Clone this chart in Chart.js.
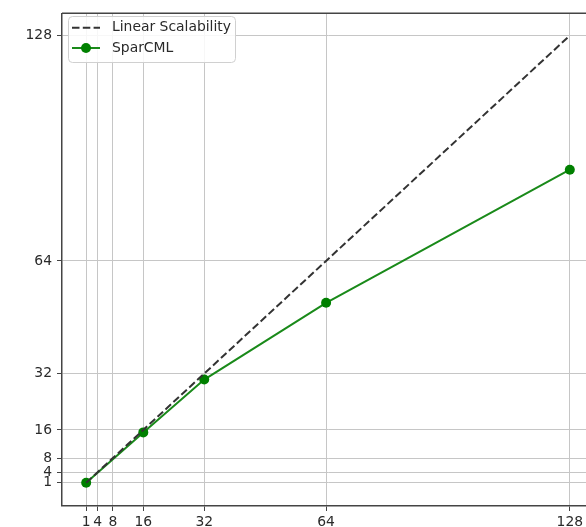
<!DOCTYPE html>
<html>
<head>
<meta charset="utf-8">
<script src="https://cdn.jsdelivr.net/npm/chart.js@4.4.1/dist/chart.umd.min.js"></script>
<style>
    html, body { margin: 0; padding: 0; background: #fff; overflow: hidden; }
    #wrap { width: 600px; height: 527px; }
</style>
</head>
<body>
<div id="wrap"><canvas id="speedupChart" width="600" height="527"></canvas></div>
<script>
// Data
const nodes = [1, 16, 32, 64, 128];
const sparcmlSpeedup = [1, 15.3, 30.3, 52.1, 89.9];
const linearNodes = [1, 4, 8, 16, 32, 64, 128];
const linearSpeedup = [1, 4, 8, 16, 32, 64, 128];
const tickValues = [1, 4, 8, 16, 32, 64, 128];
const seriesLabels = ['Linear Scalability', 'SparCML'];

const font = { family: 'DejaVu Sans', size: 13.9 };
const textColor = '#2a2a2a';
const gridColor = '#c6c6c6';
const spineColor = '#444';

const setTicks = scale => {
    scale.ticks = tickValues.map(v => ({ value: v }));
};

// Top spine + matplotlib-like legend box inside the axes
const extrasPlugin = {
    id: 'extras',
    afterDraw(chart) {
        const ctx = chart.ctx;
        const area = chart.chartArea;
        ctx.save();
        ctx.strokeStyle = spineColor;
        ctx.lineWidth = 1.5;
        ctx.beginPath();
        ctx.moveTo(area.left, area.top);
        ctx.lineTo(area.right, area.top);
        ctx.stroke();

        // legend box
        const bx = 68, by = 16, bw = 167, bh = 46, r = 4;
        ctx.fillStyle = 'rgba(255,255,255,0.85)';
        ctx.strokeStyle = '#d0d0d0';
        ctx.lineWidth = 1;
        ctx.beginPath();
        ctx.roundRect(bx + 0.5, by + 0.5, bw, bh, r);
        ctx.fill();
        ctx.stroke();

        const rows = [27.7, 48];
        chart.data.datasets.forEach((ds, i) => {
            const y = rows[i];
            ctx.strokeStyle = ds.borderColor;
            ctx.lineWidth = ds.borderWidth;
            ctx.setLineDash(ds.borderDash || []);
            ctx.beginPath();
            ctx.moveTo(72, y);
            ctx.lineTo(100, y);
            ctx.stroke();
            ctx.setLineDash([]);
            if (ds.pointRadius > 0) {
                ctx.fillStyle = ds.pointBackgroundColor;
                ctx.beginPath();
                ctx.arc(86, y, ds.pointRadius, 0, Math.PI * 2);
                ctx.fill();
            }
            ctx.fillStyle = textColor;
            ctx.font = `${font.size}px ${font.family}`;
            ctx.textBaseline = 'middle';
            ctx.textAlign = 'left';
            ctx.fillText(ds.label, 112, y);
        });
        ctx.restore();
    }
};

new Chart(document.getElementById('speedupChart'), {
    type: 'line',
    data: {
        datasets: [
            {
                label: seriesLabels[0],
                data: linearNodes.map((x, i) => ({ x: x, y: linearSpeedup[i] })),
                borderColor: '#333333',
                borderWidth: 2,
                borderDash: [7.5, 3.3],
                pointRadius: 0,
                fill: false
            },
            {
                label: seriesLabels[1],
                data: nodes.map((x, i) => ({ x: x, y: sparcmlSpeedup[i] })),
                borderColor: '#1a8a1a',
                borderWidth: 2,
                pointRadius: 5,
                pointBackgroundColor: 'green',
                pointBorderColor: 'green',
                pointBorderWidth: 0,
                fill: false
            }
        ]
    },
    options: {
        responsive: false,
        animation: false,
        devicePixelRatio: 1,
        layout: { padding: { left: 0, top: 11, right: 6, bottom: 0 } },
        plugins: {
            legend: { display: false },
            tooltip: { enabled: false }
        },
        scales: {
            x: {
                type: 'linear',
                min: -5.35,
                max: 134.35,
                afterBuildTicks: setTicks,
                afterFit: scale => { scale.height = 21; },
                grid: {
                    color: gridColor,
                    lineWidth: 1,
                    tickColor: spineColor,
                    tickLength: 5
                },
                border: { display: true, color: spineColor, width: 1.5 },
                ticks: {
                    autoSkip: false,
                    maxRotation: 0,
                    padding: 3,
                    color: textColor,
                    font: font
                }
            },
            y: {
                type: 'linear',
                min: -5.6,
                max: 134.3,
                afterBuildTicks: setTicks,
                afterFit: scale => { scale.width = 62; },
                grid: {
                    color: gridColor,
                    lineWidth: 1,
                    tickColor: spineColor,
                    tickLength: 5
                },
                border: { display: true, color: spineColor, width: 1.5 },
                ticks: {
                    autoSkip: false,
                    padding: 5,
                    color: textColor,
                    font: font
                }
            }
        }
    },
    plugins: [extrasPlugin]
});
</script>
</body>
</html>
